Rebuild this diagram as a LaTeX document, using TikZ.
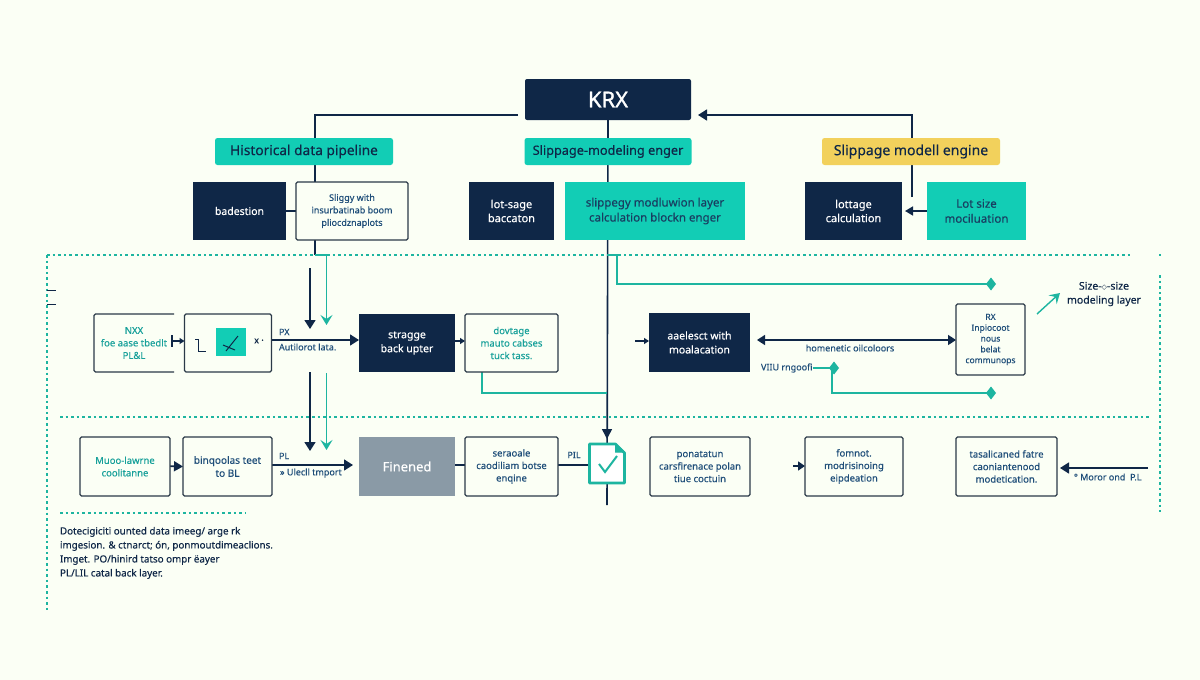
\documentclass[tikz,border=0pt]{standalone}
\usepackage{fontspec}
\setmainfont[FakeBold=0.35]{Noto Sans}
\newfontfamily\symfont{DejaVu Sans}
\newfontfamily\heavy[FakeBold=1.2]{Noto Sans}
\usetikzlibrary{arrows.meta,backgrounds,calc}
\definecolor{bgc}{HTML}{FBFFF5}
\definecolor{navy}{HTML}{0F2747}
\definecolor{tealf}{HTML}{12CDB5}
\definecolor{teall}{HTML}{1DB5A0}
\definecolor{teald}{HTML}{17A09A}
\definecolor{yel}{HTML}{F2D15C}
\definecolor{blu}{HTML}{1F4E79}
\definecolor{grayf}{HTML}{8A9AA6}
\definecolor{edgec}{HTML}{2B3A48}
\tikzset{
 base/.style={inner sep=0pt,outer sep=0pt,align=center,font=\bfseries\fontsize{9.5}{12.5}\selectfont},
 header/.style={base,rounded corners=2.5pt,fill=tealf,text=navy,minimum height=27pt,font=\bfseries\fontsize{13}{16}\selectfont},
 darkbox/.style={base,fill=navy,text=white,font=\bfseries\fontsize{10.5}{14}\selectfont},
 tealbox/.style={base,fill=tealf,text=blu!80!black,font=\bfseries\fontsize{11.5}{15}\selectfont},
 plainbox/.style={base,draw=edgec,line width=1.2pt,rounded corners=1.5pt,fill=bgc,text=blu},
 label/.style={inner sep=0pt,outer sep=0pt,align=left,text=blu,font=\bfseries\fontsize{9}{12}\selectfont},
 navyline/.style={draw=navy,line width=1.6pt},
 tealline/.style={draw=teall,line width=1.7pt},
 navyarrow/.style={navyline,-{Triangle[length=9pt,width=11pt]}},
 smallarrow/.style={navyline,-{Triangle[length=5pt,width=6pt]}},
 tealarrow/.style={tealline,-{Stealth[length=10pt,width=12pt,inset=4pt]}},
 tealkite/.style={tealline,-{Kite[length=10pt,width=13pt,inset=5pt]}},
 dots/.style={draw=teall,line width=1.3pt,dash pattern=on 2.6pt off 3pt},
}
\begin{document}
\begin{tikzpicture}[x=1pt,y=-1pt]
\useasboundingbox (0,0) rectangle (1200,680);
% top tier
\node[base,fill=navy,text=white,rounded corners=2pt,minimum width=166pt,minimum height=41pt,font=\heavy\fontsize{22}{24}\selectfont] (krx) at (608,99.5) {KRX};
\node[header,minimum width=178pt,font=\bfseries\fontsize{13.7}{16}\selectfont] (hist) at (304,151.5) {Historical data pipeline};
\node[header,minimum width=167pt,font=\bfseries\fontsize{12.7}{16}\selectfont] (slipm) at (608,151.5) {Slippage-modeling enger};
\node[header,fill=yel,minimum width=178pt,font=\bfseries\fontsize{14}{16}\selectfont] (slipe) at (911,151.5) {Slippage modell engine};
\node[darkbox,minimum width=93pt,minimum height=58pt] (bad) at (239.5,211) {badestion};
\node[plainbox,minimum width=112pt,minimum height=58pt,text=blu,font=\bfseries\fontsize{9}{12.5}\selectfont] (sli) at (352,211) {Sliggy with\\insurbatinab boom\\pliocdznaplots};
\node[darkbox,minimum width=85pt,minimum height=58pt,font=\bfseries\fontsize{11}{14}\selectfont] (lots) at (511.5,211) {lot-sage\\baccaton};
\node[tealbox,minimum width=180pt,minimum height=58pt] (tlay) at (655,211) {slippegy modluwion layer\\calculation blockn enger};
\node[darkbox,minimum width=97pt,minimum height=58pt,font=\bfseries\fontsize{11}{14}\selectfont] (calc) at (853.5,211) {lottage\\calculation};
\node[tealbox,minimum width=99pt,minimum height=58pt] (lsize) at (976.5,211) {Lot size\\mociluation};
% row 1
\node[base,minimum width=80pt,minimum height=58pt,text=teald] (ra) at (134,343) {NXX\\foe aase tbedlt\\PL\&L};
\node[plainbox,minimum width=87pt,minimum height=58pt] (rb) at (228,343) {};
\node[base,fill=tealf,minimum width=30pt,minimum height=28pt] (rbi) at (230.5,342) {};
\node[base,text=navy,font=\bfseries\fontsize{9}{10}\selectfont] (rbx) at (259,341) {x ·};
\node[darkbox,minimum width=96pt,minimum height=58pt] (stor) at (407,343) {stragge\\back upter};
\node[plainbox,minimum width=93pt,minimum height=58pt,text=teald] (dev) at (511.5,343) {dovtage\\mauto cabses\\tuck tass.};
\node[darkbox,minimum width=101pt,minimum height=59pt] (acc) at (699.5,342.5) {aaelesct with\\moalacation};
\node[plainbox,minimum width=69pt,minimum height=71pt,font=\bfseries\fontsize{8.5}{10.8}\selectfont] (rx) at (990.5,339.5) {RX\\Inpiocoot\\nous\\belat\\communops};
\node[label,text=navy,align=center,font=\bfseries\fontsize{10.5}{14}\selectfont,anchor=center] (sz) at (1104,294) {Size-{\symfont\fontsize{7}{7}\selectfont ◇}-size\\modeling layer};
\node[label,anchor=west] (px) at (279,332) {PX};
\node[label,anchor=west] (aut) at (279,347) {Autilorot lata.};
\node[label,anchor=center] (hom) at (850,348) {homenetic oilcoloors};
\node[label,anchor=west] (viu) at (761,368) {VIIU rngoofi};
% row 2
\node[plainbox,minimum width=90pt,minimum height=59pt,text=teald] (mu) at (125,466.5) {Muoo-lawrne\\coolitanne};
\node[plainbox,minimum width=89pt,minimum height=59pt,font=\bfseries\fontsize{10}{13}\selectfont] (bin) at (227.5,466.5) {binqoolas teet\\to BL};
\node[base,fill=grayf,text=white,minimum width=96pt,minimum height=59pt,font=\bfseries\fontsize{13}{16}\selectfont] (fin) at (407,466.5) {Finened};
\node[plainbox,minimum width=93pt,minimum height=59pt] (ser) at (511.5,466.5) {seraoale\\caodiliam botse\\enqine};
\node[plainbox,minimum width=100pt,minimum height=59pt] (pon) at (700,466.5) {ponatatun\\carsfirenace polan\\tiue coctuin};
\node[plainbox,minimum width=98pt,minimum height=59pt] (form) at (854,466.5) {fomnot.\\modrisinoing\\eipdeation};
\node[plainbox,minimum width=101pt,minimum height=59pt] (tas) at (1006.5,466.5) {tasalicaned fatre\\caoniantenood\\modetication.};
\node[base,minimum width=35pt,minimum height=39pt] (doc) at (607,463.5) {};
\node[label,anchor=west] (pl) at (279,456) {PL};
\node[label,anchor=west] (ulc) at (280,473) {» Ulecll tmport};
\node[label,anchor=center] (pil) at (574,455) {PIL};
\node[label,anchor=west] (mor) at (1074,477) {° Moror ond\ \ P.L};
\node[label,anchor=north west,text=navy,font=\bfseries\fontsize{9.8}{14}\selectfont] (para) at (60,527) {Dotecigiciti ounted data imeeg/ arge rk\\imgesion. \& ctnarct; ón, ponmoutdimeaclions.\\Imget. PO/hinird tatso ompr ëayer\\PL/LIL catal back layer.};
% free ends
\coordinate (lcorner) at (315,115);
\coordinate (lstart) at (518,115);
\coordinate (lend) at (315,255);
\coordinate (tdrop) at (326.5,255);
\coordinate (tdropend) at (326.5,325);
\coordinate (ndropst) at (310,268);
\coordinate (ndropend) at (310,329);
\coordinate (ndropst2) at (310,372);
\coordinate (ndropend2) at (310,451);
\coordinate (tdropst2) at (326.5,373);
\coordinate (tdropend2) at (326.5,450);
\coordinate (rtip) at (698,115);
\coordinate (rcorner) at (912,115);
\coordinate (rstart) at (912,197);
\coordinate (mainend) at (607,439);
\coordinate (mainlow) at (607,505);
\coordinate (tjoin) at (607,255);
\coordinate (tup) at (617,255);
\coordinate (tupc) at (617,284);
\coordinate (tupend) at (996,284);
\coordinate (tlow) at (482,393);
\coordinate (tlowend) at (607,393);
\coordinate (vjoin) at (832,368);
\coordinate (vtip) at (839,368);
\coordinate (vlow) at (832,393);
\coordinate (vend) at (996,393);
\coordinate (diaga) at (1037,314);
\coordinate (diagb) at (1060,293);
\coordinate (accin) at (635,341);
\coordinate (formin) at (793,466);
\coordinate (tasin) at (1148,468);
% background and connectors under the nodes
\begin{scope}[on background layer]
\fill[bgc] (0,0) rectangle (1200,680);
\draw[dots] (47,255) -- (1133,255);
\draw[dots] (1160,254) -- (1160,256);
\draw[dots] (60,417) -- (1150,417);
\draw[dots] (60,513) -- (245,513);
\draw[dots] (47,255) -- (47,612);
\draw[dots] (1160,275) -- (1160,512);
\draw[navy,line width=.7pt] (47,290) -- (56,290) (47,304) -- (56,304);
\draw[navyline] (lstart) -- (lcorner) -- (lend);
\draw[navyline] (krx.south) -- (mainlow);
\draw[navyarrow] (rstart) -- (rcorner) -- (rtip);
\draw[navyline] (bad.east) -- (sli.west);
\draw[navyarrow,-{Triangle[length=8pt,width=9pt]}] (lsize.west) -- ($(calc.east)+(3,0)$);
\draw[tealarrow] (lend) -- (tdrop) -- (tdropend);
\draw[navyarrow] (ndropst) -- (ndropend);
\draw[navyarrow] (ndropst2) -- (ndropend2);
\draw[tealarrow] (tdropst2) -- (tdropend2);
\draw[tealkite] (tjoin) -- (tup) -- (tupc) -- (tupend);
\draw[tealline] (dev.south -| 482,372) -- (tlow) -- (tlowend);
\draw[tealkite] (viu.east) -- (vtip);
\draw[tealkite] (vjoin) -- (vlow) -- (vend);
\draw[tealarrow,line width=1.4pt] (diaga) -- (diagb);
\draw[navyarrow,{Triangle[length=8pt,width=10pt]}-{Triangle[length=8pt,width=10pt]}] ($(acc.east)+(7,-2.5)$) -- ($(rx.west)+(0,0.5)$);
\draw[navyarrow] (rb.east) ++(0,-3) -- ($(stor.west)+(0,-3)$);
\draw[smallarrow] (stor.east) ++(0,-2) -- ($(dev.west)+(0,-2)$);
\draw[smallarrow] (accin) -- (acc.west |- accin);
\draw[smallarrow] (171,341) -- (rb.west |- 0,341);
\draw[navyline] (172,335) -- (172,347);
\draw[navyarrow] (bin.east) ++(0,-1.5) -- (353,465);
\draw[navyarrow,-{Triangle[length=9pt,width=10pt]}] (163,466) -- (bin.west);
\draw[navyline] (fin.east) ++(0,-1.5) -- ($(ser.west)+(0,-1.5)$);
\draw[navyline] (ser.east) ++(0,-1.5) -- (doc.west |- 0,465);
\draw[navyarrow,-{Triangle[length=7pt,width=9pt]}] (formin) -- (form.west |- formin);
\draw[navyarrow] (tasin) -- ($(tas.east |- tasin)+(3,0)$);
\end{scope}
% main line end arrow on doc
\draw[navyarrow,-{Triangle[length=10pt,width=10pt]}] ($(mainend)+(0,-10)$) -- (mainend);
% open-sided first box
\draw[edgec,line width=1.2pt,rounded corners=1.5pt] (ra.north east) -- (ra.north west) -- (ra.south west) -- (ra.south east);
% glyph in box rb
\draw[navy,line width=.9pt] (195,339) -- (198,339) -- (198,351) -- (206,351);
\draw[navy,line width=1pt] (223,345) -- (235,350) (226,351) -- (238,336);
% document icon
\draw[teall,line width=2.6pt,fill=white,line join=round] (doc.north west) -- ($(doc.north east)+(-9,0)$) -- ($(doc.north east)+(0,9)$) -- (doc.south east) -- (doc.south west) -- cycle;
\draw[teall,fill=teall,line width=1pt] ($(doc.north east)+(-9,0)$) -- ($(doc.north east)+(-9,8)$) -- ($(doc.north east)+(0,8)$) -- cycle;
\draw[teall,line width=2pt] (599,464) -- (605,472) -- (617,456);
\end{tikzpicture}
\end{document}
